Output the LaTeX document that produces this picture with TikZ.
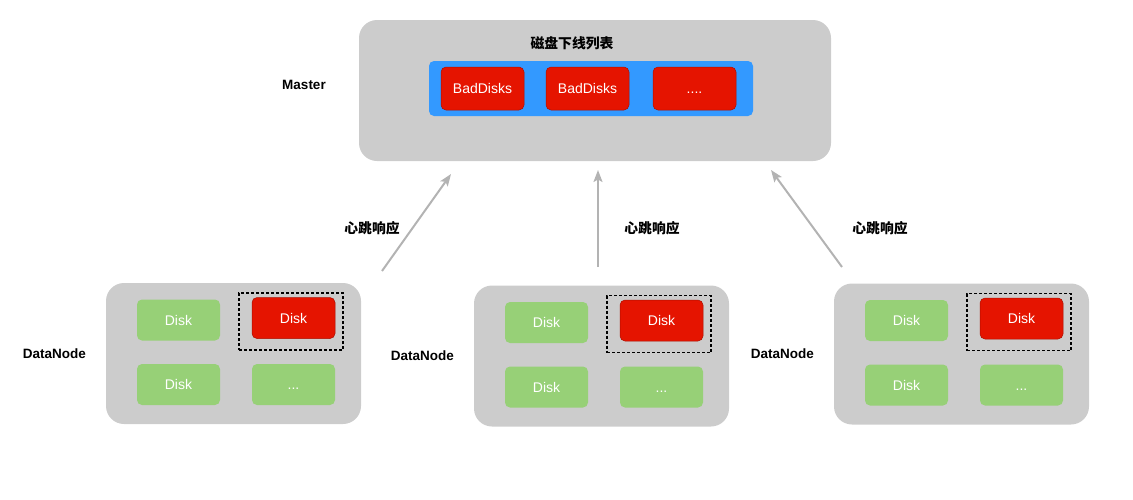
\documentclass[tikz,border=0pt]{standalone}
\usepackage{fontspec}
\setmainfont{Liberation Sans}
\newfontfamily\cjk{Noto Sans CJK SC}
\usepackage{tikz}
\usetikzlibrary{positioning, arrows.meta}
\usepackage{xcolor}

\definecolor{panelgray}{HTML}{CCCCCC}
\definecolor{listblue}{HTML}{3399FF}
\definecolor{diskred}{HTML}{E51400}
\definecolor{diskgreen}{HTML}{97D077}
\definecolor{beatgray}{HTML}{B3B3B3}

\tikzset{
    panel/.style={fill=panelgray, rounded corners=18pt, inner sep=0pt},
    gooddisk/.style={fill=diskgreen, rounded corners=5pt, inner sep=0pt,
        minimum width=83pt, minimum height=41pt, text=white,
        text height=10pt, text depth=0pt,
        font=\fontsize{14}{16}\selectfont},
    baddisk/.style={gooddisk, fill=diskred, draw=diskred!75!black, line width=0.5pt},
    pick/.style={draw, dashed, dash pattern=on 3pt off 2pt, line width=1.1pt,
        minimum width=104pt, minimum height=57pt, inner sep=0pt},
    tag/.style={font=\bfseries\fontsize{13.5}{16}\selectfont},
    cjktag/.style={font=\cjk\bfseries\fontsize{13.8}{16}\selectfont},
    beat/.style={draw=beatgray, line width=2pt,
        -{Stealth[length=12pt, width=9pt, inset=2.5pt]}}
}

\begin{document}
\begin{tikzpicture}[x=1pt, y=-1pt, node distance=16.5pt]
    \useasboundingbox (0,0) rectangle (1133,499);

    % master with bad disk list
    \node[panel, minimum width=472pt, minimum height=141pt] (master) at (595,90.5) {};
    \node[tag] (master-tag) at (304,85) {Master};
    \node[cjktag] (list-title) at (572,43) {磁盘下线列表};
    \node[fill=listblue, rounded corners=5pt, minimum width=324pt, minimum height=55pt] (list) at (591,88.5) {};
    \node[baddisk, minimum height=43pt] (bad1) at (482.5,88.5) {BadDisks};
    \node[baddisk, minimum height=43pt] (bad2) at (587.5,88.5) {BadDisks};
    \node[baddisk, minimum height=43pt] (bad3) at (694.5,88.5) {....};

    % data nodes
    \foreach \i/\x/\y in {1/233.5/353.5, 2/601.5/356, 3/961.5/354} {
        \node[panel, minimum width=255pt, minimum height=141pt] (dn\i) at (\x,\y) {};
        \node[tag, left=of dn\i.west] (dn\i-tag) {DataNode};
        \node[gooddisk] (dn\i-a) at ([shift={(-55,-33.5)}]dn\i.center) {Disk};
        \node[pick] (dn\i-pick) at ([shift={(57.5,-32)}]dn\i.center) {};
        \node[baddisk] (dn\i-b) at ([shift={(60,-35.5)}]dn\i.center) {Disk};
        \node[gooddisk] (dn\i-c) at ([shift={(-55,31)}]dn\i.center) {Disk};
        \node[gooddisk] (dn\i-d) at ([shift={(60,31)}]dn\i.center) {...};
    }

    % heartbeat replies
    \coordinate (beat1-from) at (382,271);
    \coordinate (beat1-to) at (451,174);
    \coordinate (beat2-from) at (598,267);
    \coordinate (beat2-to) at (598,170);
    \coordinate (beat3-from) at (842,267);
    \coordinate (beat3-to) at (771,170);
    \draw[beat] (beat1-from) -- (beat1-to);
    \draw[beat] (beat2-from) -- (beat2-to);
    \draw[beat] (beat3-from) -- (beat3-to);
    \node[cjktag] (beat1-tag) at (372,228) {心跳响应};
    \node[cjktag] (beat2-tag) at (652,228) {心跳响应};
    \node[cjktag] (beat3-tag) at (880,228) {心跳响应};
\end{tikzpicture}
\end{document}
